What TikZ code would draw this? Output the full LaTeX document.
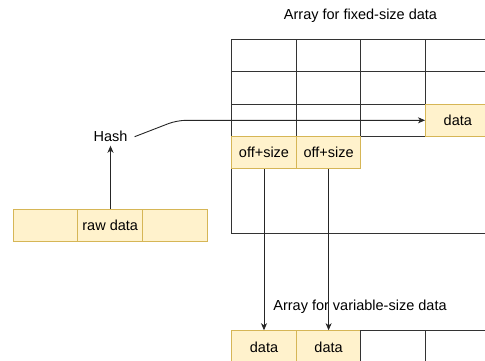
\documentclass[tikz,border=0pt]{standalone}
\usepackage{fontspec}
\setmainfont{Liberation Sans}
\usetikzlibrary{arrows.meta}
\definecolor{cellfill}{HTML}{FFF2CC}
\definecolor{cellline}{HTML}{D6B656}
\definecolor{gridline}{HTML}{333333}
\begin{document}
\begin{tikzpicture}[x=1pt,y=-1pt,
  font=\fontsize{14.5}{17}\selectfont,
  cell/.style={rectangle,draw=gridline,line width=0.9pt,minimum width=64.6pt,minimum height=32.4pt,inner sep=0pt},
  filled/.style={cell,draw=cellline,fill=cellfill},
  label/.style={inner sep=0pt},
  conn/.style={draw=black!85,line width=0.9pt},
  tip/.style={-{Stealth[length=7pt,width=6pt,inset=2pt]}}]
\useasboundingbox (0,0) rectangle (485,360);

% captions
\node[label] (ttlfixed) at (360.5,16) {Array for fixed-size data};
\node[label] (ttlvar) at (360,306.7) {Array for variable-size data};

% frame of the fixed-size array
\draw[draw=gridline,line width=0.9pt] (231.7,39.3) rectangle (520,233.7);

% fixed-size array: first three rows
\foreach \r/\y in {1/55.5,2/87.9,3/120.3}{
  \foreach \c/\x in {1/264,2/328.6,3/393.2}{
    \node[cell] (f\r\c) at (\x,\y) {};
  }
}
\node[cell] (f14) at (457.8,55.5) {};
\node[cell] (f24) at (457.8,87.9) {};
\node[filled] (fdata) at (457.8,120.3) {data};

% offset entries
\node[filled] (off1) at (264,152.7) {off+size};
\node[filled] (off2) at (328.6,152.7) {off+size};

% variable-size array
\node[filled] (vd1) at (264,346.9) {data};
\node[filled] (vd2) at (328.6,346.9) {data};
\node[cell] (v3) at (393.2,346.9) {};
\node[cell] (v4) at (457.8,346.9) {};

% raw input
\node[filled] (raw1) at (45.6,225.6) {};
\node[filled] (raw2) at (110.2,225.6) {raw data};
\node[filled] (raw3) at (174.8,225.6) {};

% hash function
\node[inner xsep=7pt,inner ysep=3.5pt] (hash) at (110.5,136.7) {Hash};
\coordinate (bend) at (177,120.3);

% connectors
\draw[conn,tip] (raw2.north -| hash.south) -- (hash.south);
\draw[conn,tip,rounded corners=9pt] (hash.east) -- (bend) -- (fdata.west);
\draw[conn,tip] (off1.south) -- (vd1.north);
\draw[conn,tip] (off2.south) -- (vd2.north);
\end{tikzpicture}
\end{document}
